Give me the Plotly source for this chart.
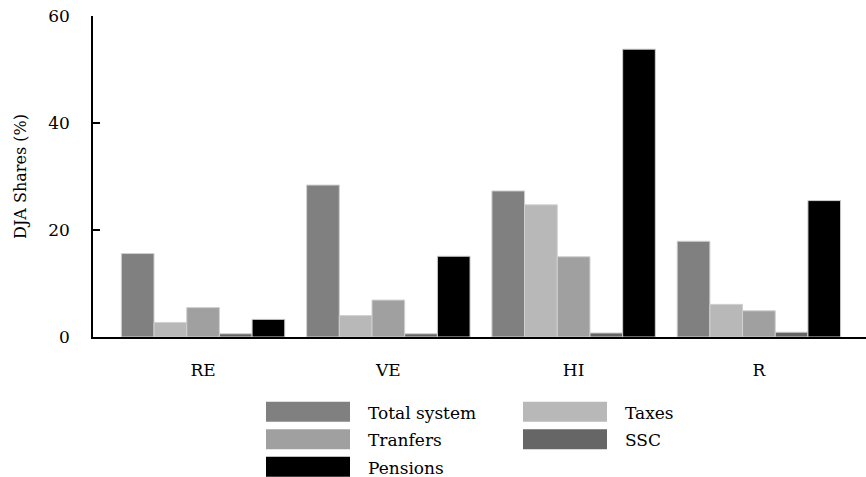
import plotly.graph_objects as go

categories = ["RE", "VE", "HI", "R"]
series_names = ["Total system", "Taxes", "Tranfers", "SSC", "Pensions"]
total_system = [15.6, 28.4, 27.3, 17.9]
taxes = [2.7, 4.0, 24.7, 6.1]
tranfers = [5.5, 6.9, 15.0, 4.9]
ssc = [0.6, 0.6, 0.75, 0.9]
pensions = [3.3, 15.1, 53.8, 25.5]
y_ticks = [0, 20, 40, 60]

series_values = [total_system, taxes, tranfers, ssc, pensions]
colors = ["#808080", "#b8b8b8", "#a0a0a0", "#666666", "#000000"]

FONT = "DejaVu Serif"

fig = go.Figure()
for name, vals, col in zip(series_names, series_values, colors):
    fig.add_trace(go.Bar(
        x=categories, y=vals, name=name, showlegend=False,
        marker=dict(color=col, line=dict(color="#d0d0d0", width=1)),
    ))

W, H = 866, 477
ml, mr, mt, mb = 93, 0, 16, 140
pw, ph = W - ml - mr, H - mt - mb

def px_x(px):
    return (px - ml) / pw

def px_y(py):
    return (H - mb - py) / ph

# custom legend (row-major, two columns)
legend_order = [0, 1, 2, 3, 4]
col_x = [266, 523]
row_top = [401.7, 429.2, 456.7]
sw_w, sw_h = 84, 20
shapes = []
annotations = []
for k, idx in enumerate(legend_order):
    r, c = divmod(k, 2)
    x0 = col_x[c]
    y0 = row_top[r]
    shapes.append(dict(type="rect", xref="paper", yref="paper",
                       x0=px_x(x0), x1=px_x(x0 + sw_w),
                       y0=px_y(y0 + sw_h), y1=px_y(y0),
                       fillcolor=colors[idx], line=dict(width=0)))
    annotations.append(dict(xref="paper", yref="paper",
                            x=px_x(x0 + sw_w + 16), y=px_y(y0 + sw_h / 2 + 1),
                            xanchor="left", yanchor="middle", showarrow=False,
                            text=series_names[idx],
                            font=dict(family=FONT, size=17, color="black")))

fig.update_layout(
    width=W, height=H,
    margin=dict(l=ml, r=mr, t=mt, b=mb),
    paper_bgcolor="white", plot_bgcolor="white",
    barmode="group", bargap=0.118, bargroupgap=0,
    font=dict(family=FONT, color="black"),
    shapes=shapes, annotations=annotations,
    xaxis=dict(
        range=[-0.594, 3.578], showgrid=False, zeroline=False,
        showline=True, linecolor="black", linewidth=1.5,
        ticks="", tickfont=dict(family=FONT, size=17),
        ticklabelstandoff=17,
    ),
    yaxis=dict(
        range=[0, 60], tickvals=y_ticks, showgrid=False, zeroline=False,
        showline=True, linecolor="black", linewidth=1.5,
        ticks="inside", ticklen=7, tickwidth=1.5, tickcolor="black",
        tickfont=dict(family=FONT, size=17), ticklabelstandoff=18,
        title=dict(text="DJA Shares (%)", font=dict(family=FONT, size=16), standoff=18),
    ),
)

fig.write_html("out.html", config={"displayModeBar": False},
               post_script="document.body.style.margin='0';")
